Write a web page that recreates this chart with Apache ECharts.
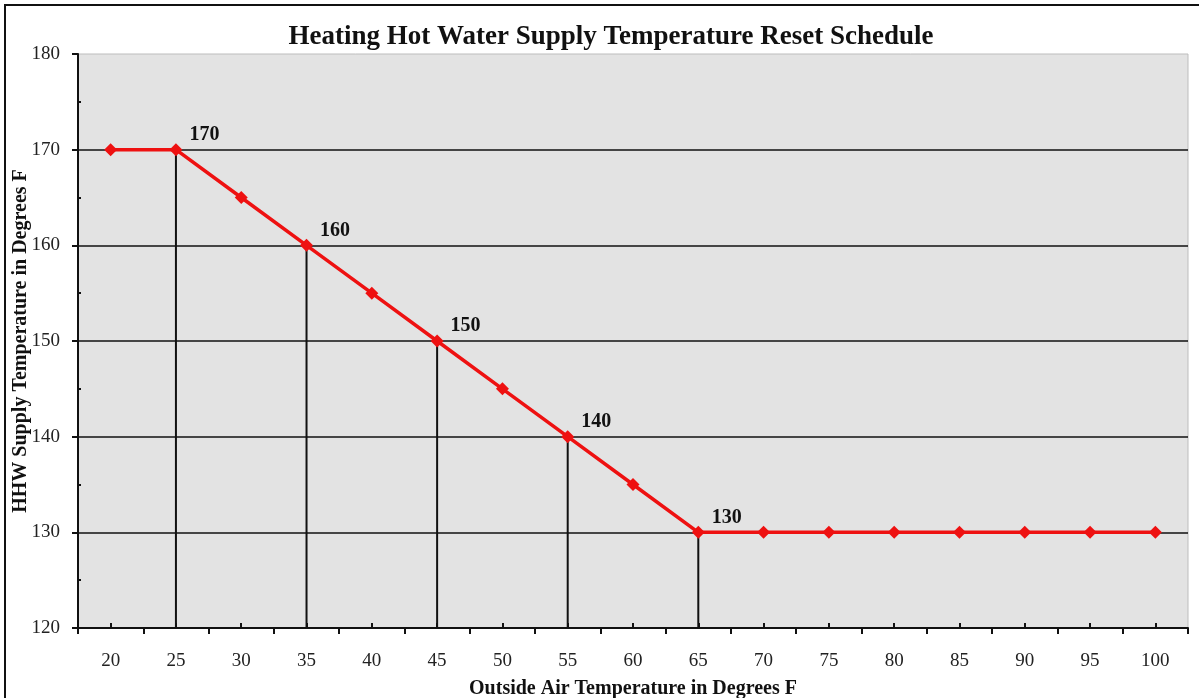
<!DOCTYPE html>
<html>
<head>
<meta charset="utf-8">
<script src="https://cdn.jsdelivr.net/npm/echarts@6/dist/echarts.min.js"></script>
<style>
  html, body { margin: 0; padding: 0; background: #fff; }
  #chart { width: 1199px; height: 698px; }
</style>
</head>
<body>
<div id="chart"></div>
<script>
// outside air temperature (deg F)
const outsideTemps = ['20', '25', '30', '35', '40', '45', '50', '55', '60', '65', '70', '75', '80', '85', '90', '95', '100']
// HHW supply setpoint (deg F)
const supplyTemps = [170, 170, 165, 160, 155, 150, 145, 140, 135, 130, 130, 130, 130, 130, 130, 130, 130]
// points that get a drop line and a value label
const markedTemps = ['25', '35', '45', '55', '65']

const serif = '"Liberation Serif", "Times New Roman", serif'

const chart = echarts.init(document.getElementById('chart'))

// drop line bars only at the marked points
const dropData = outsideTemps.map((t, i) => markedTemps.includes(t) ? supplyTemps[i] : null)

chart.setOption({
    animation: false,
    title: {
        text: 'Heating Hot Water Supply Temperature Reset Schedule',
        left: 606,
        top: 19,
        textAlign: 'center',
        textStyle: { fontFamily: serif, fontSize: 27, fontWeight: 'bold', color: '#111' }
    },
    graphic: [
        {
            type: 'rect',
            shape: { x: 5, y: 5, width: 1300, height: 800 },
            style: { fill: 'none', stroke: '#111', lineWidth: 2 },
            silent: true
        }
    ],
    grid: {
        left: 78, right: 11, top: 54, bottom: 70,
        outerBoundsMode: 'none',
        containLabel: false,
        show: true,
        backgroundColor: '#e3e3e3',
        borderColor: '#bdbdbd',
        borderWidth: 1
    },
    xAxis: [
        {
            type: 'category',
            data: outsideTemps,
            name: 'Outside Air Temperature in Degrees F',
            nameLocation: 'middle',
            nameGap: 51,
            nameMoveOverlap: false,
            nameTextStyle: { fontFamily: serif, fontSize: 20, fontWeight: 'bold', color: '#111' },
            axisLine: { lineStyle: { color: '#111', width: 2 } },
            axisTick: { show: true, inside: false, length: 6, lineStyle: { color: '#111', width: 2 } },
            axisLabel: { fontFamily: serif, fontSize: 19, color: '#222', margin: 24 },
            splitLine: { show: false }
        },
        {
            // small inside ticks at the category centres
            type: 'category',
            data: outsideTemps,
            position: 'bottom',
            axisLine: { show: false },
            axisTick: { show: true, inside: true, alignWithLabel: true, length: 5, lineStyle: { color: '#111', width: 2 } },
            axisLabel: { show: false },
            splitLine: { show: false }
        }
    ],
    yAxis: {
        type: 'value',
        min: 120,
        max: 180,
        interval: 10,
        name: 'HHW Supply Temperature in Degrees F',
        nameLocation: 'middle',
        nameGap: 47,
        nameMoveOverlap: false,
        nameTextStyle: { fontFamily: serif, fontSize: 20, fontWeight: 'bold', color: '#111' },
        axisLine: { show: true, lineStyle: { color: '#111', width: 2 } },
        axisTick: { show: true, length: 6, lineStyle: { color: '#111', width: 2 } },
        minorTick: { show: true, splitNumber: 2, length: -3, lineStyle: { color: '#111', width: 2 } },
        axisLabel: { fontFamily: serif, fontSize: 19, color: '#222', margin: 18 },
        splitLine: {
            show: true,
            lineStyle: { color: '#111', width: 1.5 },
            showMinLine: false,
            showMaxLine: false
        }
    },
    series: [
        {
            name: 'drop',
            type: 'bar',
            data: dropData,
            barWidth: 2,
            barGap: '-100%',
            itemStyle: { color: '#111' },
            silent: true,
            z: 2
        },
        {
            name: 'HHW supply',
            type: 'line',
            data: supplyTemps,
            symbol: 'diamond',
            symbolSize: 13,
            lineStyle: { color: '#ee1111', width: 3.5 },
            itemStyle: { color: '#ee1111' },
            z: 5,
            label: {
                show: true,
                position: 'right',
                offset: [2, -15],
                fontFamily: serif,
                fontSize: 20,
                fontWeight: 'bold',
                color: '#111',
                formatter: p => markedTemps.includes(p.name) ? String(p.value) : ''
            }
        }
    ]
})

window.addEventListener('resize', () => {
    chart.resize()
})
</script>
</body>
</html>
